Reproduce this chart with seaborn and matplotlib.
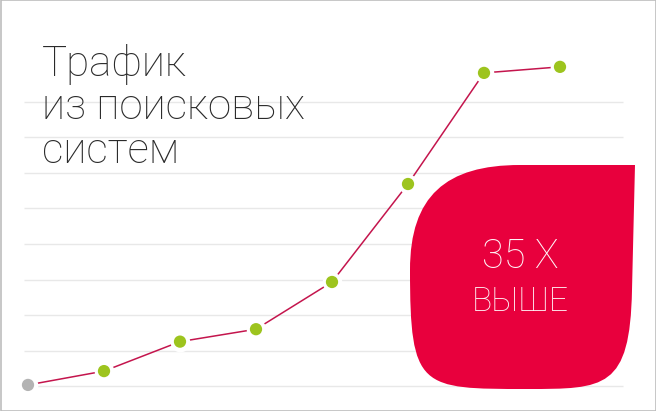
import matplotlib
matplotlib.use("Agg")
import matplotlib.pyplot as plt
from matplotlib.path import Path
from matplotlib.patches import PathPatch, Rectangle
import seaborn as sns
import pandas as pd

# ---- data ----
steps = [0, 1, 2, 3, 4, 5, 6, 7]
traffic = [0.03, 0.42, 1.25, 1.6, 2.93, 5.69, 8.82, 8.99]
point_kind = ["start", "grow", "grow", "grow", "grow", "grow", "grow", "grow"]
grid_levels = [0, 1, 2, 3, 4, 5, 6, 7, 8]
title_lines = ["Трафик", "из поисковых", "систем"]
badge_top = "35 X"
badge_bottom = "ВЫШЕ"

df = pd.DataFrame({"step": steps, "traffic": traffic, "kind": point_kind})

sns.set_theme(style="white")
plt.rcParams["font.family"] = ["Roboto", "DejaVu Sans"]

W, H = 656, 411
fig = plt.figure(figsize=(W / 100, H / 100), dpi=100)
ax = fig.add_axes([0, 0, 1, 1])
ax.set_xlim(-28 / 76, (W - 28) / 76)
ax.set_ylim((386 - H) / 35.5, 386 / 35.5)
ax.axis("off")

# gridlines
ax.hlines(grid_levels, -4 / 76, (623 - 28) / 76, color="#e8e8e8", lw=1.0, zorder=1)

# line
sns.lineplot(data=df, x="step", y="traffic", color="#c4154d", lw=1.1,
             ax=ax, zorder=2, legend=False)
# white halos
sns.scatterplot(data=df, x="step", y="traffic", color="white", s=200,
                linewidth=0, ax=ax, zorder=3, legend=False)
# markers
sns.scatterplot(data=df, x="step", y="traffic", hue="kind",
                palette={"start": "#b3b3b3", "grow": "#9dc41e"}, s=78,
                linewidth=0, ax=ax, zorder=4, legend=False)

# red badge (pixel coords, y down)
def px(x, y):
    return (x / W, 1 - y / H)

verts = [px(635, 165), px(520, 165),
         px(446, 165), px(410, 196), px(410, 270),
         px(410, 389), px(420, 389), px(527, 389),
         px(605, 389), px(630, 389), px(632, 290),
         px(635, 165), px(635, 165)]
codes = [Path.MOVETO, Path.LINETO,
         Path.CURVE4, Path.CURVE4, Path.CURVE4,
         Path.CURVE4, Path.CURVE4, Path.CURVE4,
         Path.CURVE4, Path.CURVE4, Path.CURVE4,
         Path.LINETO, Path.CLOSEPOLY]
badge = PathPatch(Path(verts, codes), facecolor="#e8003d", edgecolor="none",
                  transform=fig.transFigure, zorder=5)
fig.patches.append(badge)

fig.text(520 / W, 1 - 268 / H, badge_top, color="#fff5f7", fontsize=28.5,
         fontweight="light", ha="center", va="baseline", zorder=6)
fig.text(520 / W, 1 - 311 / H, badge_bottom, color="#fff5f7", fontsize=24.2,
         fontweight="light", ha="center", va="baseline", zorder=6)

# title
for line, base in zip(title_lines, [76, 119, 163]):
    fig.text(42 / W, 1 - base / H, line, color="#2a2a2a", fontsize=30.3,
             fontweight="light", ha="left", va="baseline", zorder=6)

# figure border
fig.patches.append(Rectangle((0.5 / W, 0.5 / H), 1 - 1 / W, 1 - 1 / H,
                             transform=fig.transFigure, fill=False,
                             edgecolor="#bdbdbd", lw=1.2, zorder=10))

fig.savefig("out.png", dpi=100)
